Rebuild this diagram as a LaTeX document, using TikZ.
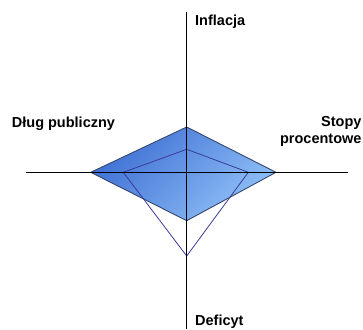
\documentclass[tikz,border=0pt]{standalone}
\usepackage{fontspec}
\setmainfont{Liberation Sans}
\usepackage{tikz}
\usepackage{xcolor}
\usetikzlibrary{positioning, calc}
\definecolor{RadarDark}{HTML}{3E70D4}
\definecolor{RadarLight}{HTML}{90C0F6}
\definecolor{RadarEdge}{HTML}{35476E}
\definecolor{RadarLine}{HTML}{3A3C98}

\tikzset{
    axislabel/.style={font=\fontsize{14.5}{16.6}\selectfont\bfseries, inner sep=0pt}
}

\begin{document}
\begin{tikzpicture}[x=1pt, y=1pt]
    \useasboundingbox (0,0) rectangle (363,329);

    % Centre and axis ends
    \coordinate (O) at (186.7,156.7);
    \coordinate (axT) at (186.7,317);
    \coordinate (axB) at (186.7,0);
    \coordinate (axL) at (26,156.7);
    \coordinate (axR) at (348,156.7);

    % Outer diamond (shaded)
    \coordinate (dT) at (186.7,202);
    \coordinate (dL) at (90.7,156.7);
    \coordinate (dR) at (276,156.7);
    \coordinate (dB) at (186.7,108.3);
    \shade[top color=RadarDark, bottom color=RadarLight, shading angle=45]
        (dT) -- (dR) -- (dB) -- (dL) -- cycle;
    \draw[RadarEdge, line width=0.9pt, line join=round] (dT) -- (dR) -- (dB) -- (dL) -- cycle;

    % Inner quadrilateral
    \coordinate (qT) at (186.7,179.7);
    \coordinate (qL) at (123.3,156.7);
    \coordinate (qR) at (248.3,156.7);
    \coordinate (qB) at (186.7,73);
    \draw[RadarLine, line width=0.8pt] (qT) -- (qR) -- (qB) -- (qL) -- cycle;

    % Draw axes
    \draw[black, line width=0.8pt] (axT) -- (axB);
    \draw[black, line width=0.8pt] (axL) -- (axR);

    % Labels
    \node[axislabel, anchor=base west] (inf) at (195,303.3) {Inflacja};
    \node[axislabel, anchor=base west] (dlug) at (11.7,201.3) {Dług publiczny};
    \node[axislabel, anchor=base east] (stopy) at (361.7,202.3) {Stopy};
    \node[axislabel, anchor=base east] (proc) at (361.7,185.7) {procentowe};
    \node[axislabel, anchor=base west] (def) at (195,3.3) {Deficyt};
\end{tikzpicture}
\end{document}
